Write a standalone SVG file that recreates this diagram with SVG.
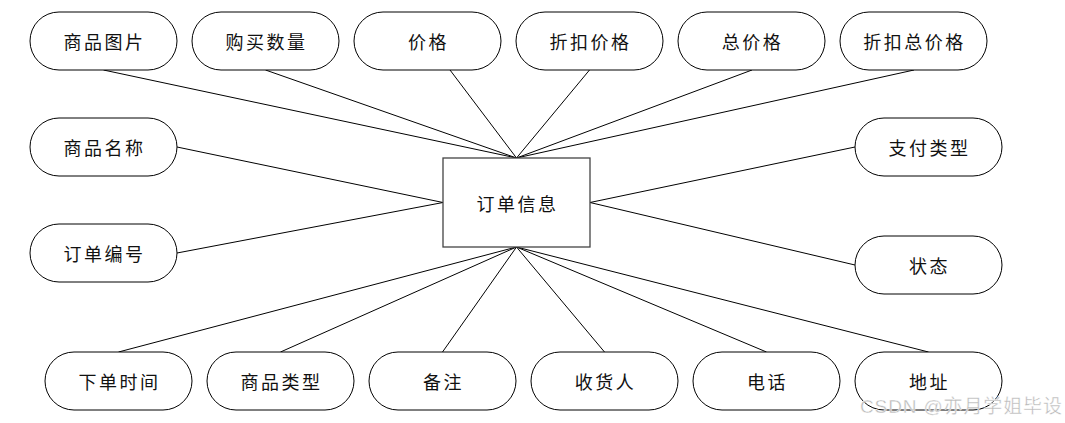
<svg xmlns="http://www.w3.org/2000/svg" width="1065" height="423" viewBox="0 0 1065 423">
<style>
.pill{fill:#fff;stroke:#000;stroke-width:1}
.ent{fill:#fff;stroke:#444;stroke-width:1.3}
.lbl{font-family:"Noto Sans CJK SC","Liberation Sans",sans-serif;font-size:18px;fill:#111;text-anchor:middle;dominant-baseline:central;letter-spacing:2.5px}
.cn line{stroke:#000;stroke-width:1}
.wm{font-family:"Liberation Sans","Noto Sans CJK SC",sans-serif;font-size:19px;fill:#b8b8b8;stroke:#fff;stroke-width:0.4}
</style>
<rect width="1065" height="423" fill="#fff"/>
<g id="connectors" class="cn">
<line x1="103.5" y1="70" x2="516.5" y2="158"/>
<line x1="265.5" y1="70" x2="516.5" y2="158"/>
<line x1="450" y1="70" x2="516.5" y2="158"/>
<line x1="589.5" y1="70" x2="516.5" y2="158"/>
<line x1="752" y1="70" x2="516.5" y2="158"/>
<line x1="914" y1="70" x2="516.5" y2="158"/>
<line x1="177" y1="147" x2="443" y2="202.5"/>
<line x1="177" y1="253" x2="443" y2="202.5"/>
<line x1="855" y1="147" x2="590" y2="202.5"/>
<line x1="855" y1="265" x2="590" y2="202.5"/>
<line x1="118.5" y1="352" x2="516.5" y2="247"/>
<line x1="280.5" y1="352" x2="516.5" y2="247"/>
<line x1="442.5" y1="352" x2="516.5" y2="247"/>
<line x1="604.5" y1="352" x2="516.5" y2="247"/>
<line x1="766.5" y1="352" x2="516.5" y2="247"/>
<line x1="928.5" y1="352" x2="516.5" y2="247"/>
</g>
<g id="order"><rect class="ent" x="443" y="158" width="147" height="89"/><text class="lbl" x="517.5" y="202.5">订单信息</text></g>
<g id="n1"><rect class="pill" x="30" y="12" width="147" height="58" rx="29"/><text class="lbl" x="104.5" y="41">商品图片</text></g>
<g id="n2"><rect class="pill" x="192" y="12" width="147" height="58" rx="29"/><text class="lbl" x="266.5" y="41">购买数量</text></g>
<g id="n3"><rect class="pill" x="354" y="12" width="147" height="58" rx="29"/><text class="lbl" x="428.5" y="41">价格</text></g>
<g id="n4"><rect class="pill" x="516" y="12" width="147" height="58" rx="29"/><text class="lbl" x="590.5" y="41">折扣价格</text></g>
<g id="n5"><rect class="pill" x="678" y="12" width="147" height="58" rx="29"/><text class="lbl" x="752.5" y="41">总价格</text></g>
<g id="n6"><rect class="pill" x="840" y="12" width="147" height="58" rx="29"/><text class="lbl" x="914.5" y="41">折扣总价格</text></g>
<g id="n7"><rect class="pill" x="30" y="118" width="147" height="58" rx="29"/><text class="lbl" x="104.5" y="147">商品名称</text></g>
<g id="n8"><rect class="pill" x="30" y="224" width="147" height="58" rx="29"/><text class="lbl" x="104.5" y="253">订单编号</text></g>
<g id="n9"><rect class="pill" x="855" y="118" width="147" height="58" rx="29"/><text class="lbl" x="929.5" y="147">支付类型</text></g>
<g id="n10"><rect class="pill" x="855" y="236" width="147" height="58" rx="29"/><text class="lbl" x="929.5" y="265">状态</text></g>
<g id="n11"><rect class="pill" x="45" y="352" width="147" height="58" rx="29"/><text class="lbl" x="119.5" y="381">下单时间</text></g>
<g id="n12"><rect class="pill" x="207" y="352" width="147" height="58" rx="29"/><text class="lbl" x="281.5" y="381">商品类型</text></g>
<g id="n13"><rect class="pill" x="369" y="352" width="147" height="58" rx="29"/><text class="lbl" x="443.5" y="381">备注</text></g>
<g id="n14"><rect class="pill" x="531" y="352" width="147" height="58" rx="29"/><text class="lbl" x="605.5" y="381">收货人</text></g>
<g id="n15"><rect class="pill" x="693" y="352" width="147" height="58" rx="29"/><text class="lbl" x="767.5" y="381">电话</text></g>
<g id="n16"><rect class="pill" x="855" y="352" width="147" height="58" rx="29"/><text class="lbl" x="929.5" y="381">地址</text></g>
<text class="wm" x="860" y="413" textLength="202" lengthAdjust="spacing">CSDN @亦月学姐毕设</text>
</svg>
